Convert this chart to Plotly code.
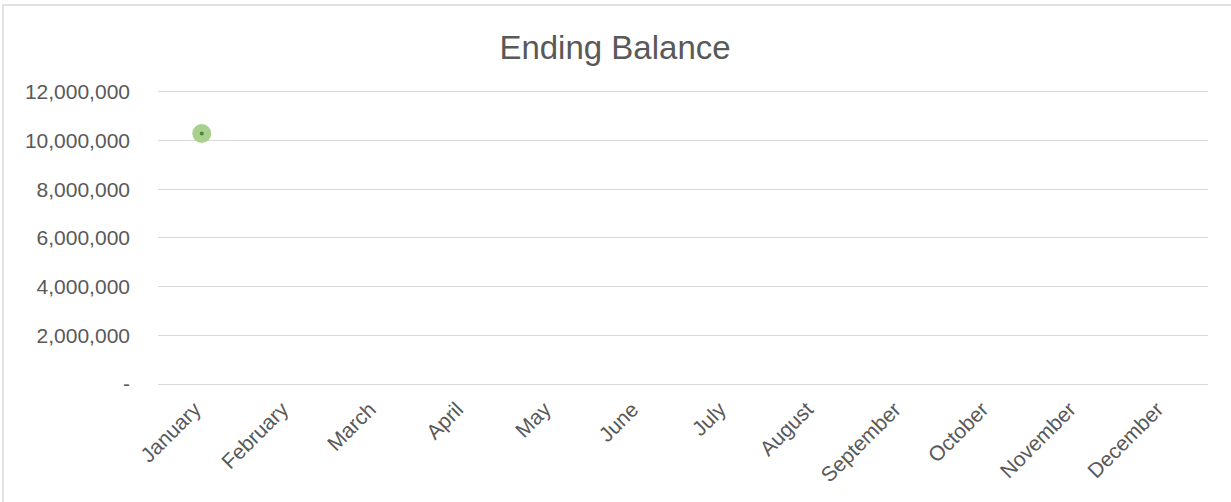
import plotly.graph_objects as go

months = ["January", "February", "March", "April", "May", "June", "July",
          "August", "September", "October", "November", "December"]
ending_balance = [10290000, None, None, None, None, None, None, None, None, None, None, None]
y_ticks = [0, 2000000, 4000000, 6000000, 8000000, 10000000, 12000000]
y_tick_labels = ["-", "2,000,000", "4,000,000", "6,000,000", "8,000,000", "10,000,000", "12,000,000"]

W, H = 1231, 502
Y_TOP = 12080000  # a little headroom so the 12,000,000 gridline is drawn
L, R, T, B = 158, 23, 90, 118
pw, ph = W - L - R, H - T - B

fig = go.Figure()
fig.add_trace(go.Scatter(
    x=months, y=ending_balance, mode="markers",
    marker=dict(size=19, color="#A9D18E", line=dict(width=0)),
    hoverinfo="skip", showlegend=False))
fig.add_trace(go.Scatter(
    x=months, y=ending_balance, mode="markers",
    marker=dict(size=4, color="#548235", line=dict(width=0)),
    hoverinfo="skip", showlegend=False))

txt = "#595959"
fig.update_layout(
    width=W, height=H,
    margin=dict(l=L, r=R, t=T, b=B, pad=0),
    paper_bgcolor="white", plot_bgcolor="white",
    font=dict(family="Liberation Sans, Arial, sans-serif", color=txt, size=21),
    title=dict(text="Ending Balance", x=615 / W, xanchor="center",
               y=1 - 47 / H, yanchor="middle",
               font=dict(size=33, color=txt)),
    xaxis=dict(type="category", categoryorder="array", categoryarray=months,
               range=[-0.5, len(months) - 0.5],
               tickangle=-45, showgrid=False, zeroline=False, showline=False,
               ticks="", ticklabelstandoff=8, ticklabelshift=-7,
               tickfont=dict(size=21, color=txt)),
    yaxis=dict(range=[0, Y_TOP], tickvals=y_ticks, ticktext=y_tick_labels,
               showgrid=True, gridcolor="#D9D9D9", gridwidth=1,
               zeroline=True, zerolinecolor="#D9D9D9", zerolinewidth=1,
               showline=False, ticks="", ticklabelstandoff=27,
               tickfont=dict(size=21, color=txt)),
)

# chart-area border (light gray frame)
fig.add_shape(type="rect", xref="paper", yref="paper",
              x0=(3 - L) / pw, x1=(W + 20 - L) / pw,
              y0=(T + ph - (H + 20)) / ph, y1=(T + ph - 5) / ph,
              line=dict(color="#D9D9D9", width=1.5), fillcolor="rgba(0,0,0,0)", layer="below")

fig.write_html("out.html", config={"displayModeBar": False},
               post_script="document.body.style.margin='0px';")
